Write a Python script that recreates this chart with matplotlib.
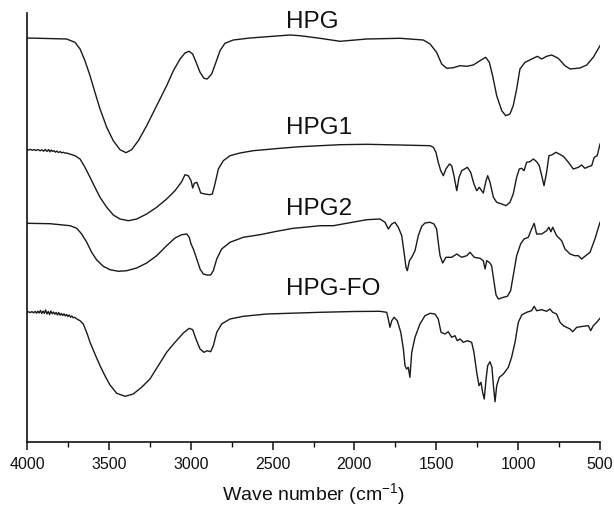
import matplotlib
matplotlib.use("Agg")
import matplotlib.pyplot as plt
from matplotlib.ticker import MultipleLocator

plt.rcParams['font.family'] = ['Liberation Sans', 'DejaVu Sans']
plt.rcParams['mathtext.fontset'] = 'custom'
plt.rcParams['mathtext.rm'] = 'Liberation Sans'
plt.rcParams['mathtext.it'] = 'Liberation Sans:italic'

# ---- data: wave number (cm-1) and transmittance (arbitrary, stacked offsets) ----
hpg_w = [4000, 3758, 3707, 3676, 3646, 3615, 3585, 3554, 3513, 3473, 3432, 3395, 3361,
         3320, 3269, 3208, 3147, 3106, 3065, 3035, 3010, 2988, 2963, 2943, 2919, 2899,
         2872, 2846, 2821, 2791, 2740, 2638, 2394, 2333, 2210, 2088, 1925, 1722, 1579,
         1538, 1498, 1467, 1436, 1396, 1355, 1314, 1274, 1233, 1198, 1176, 1156, 1131,
         1100, 1076, 1050, 1030, 1009, 989, 958, 907, 883, 856, 826, 795, 755, 714,
         683, 622, 581, 541, 500]
hpg_t = [404, 403, 399.7, 393, 381.3, 366.3, 349.7, 333, 314.7, 301.3, 292.3, 289.3, 292.3,
         301.3, 316.3, 336.3, 356.3, 371.3, 383, 389, 390.7, 388, 378, 369.7, 363.7, 363,
         368, 379.7, 391.3, 398.7, 402, 404, 407, 406.3, 403.7, 400.7, 403, 403.7, 402,
         398, 389.7, 378, 373.7, 374.3, 376.3, 375.7, 377, 381.3, 384.7, 379.7, 366.3, 346.3,
         331.3, 326.3, 328, 336.3, 353, 373, 379.7, 383.7, 385.7, 383, 385.7, 387, 383.7, 376.3,
         373, 374, 377, 384.7, 396.3]

hpg1_w = [4000, 3990, 3978, 3968, 3955, 3945, 3932, 3920, 3910, 3898, 3888, 3878, 3868,
          3860, 3852, 3844, 3835, 3826, 3818, 3808, 3798, 3788, 3778, 3768, 3758, 3707,
          3676, 3646, 3615, 3585, 3554, 3513, 3473, 3432, 3381, 3330, 3269, 3208, 3147,
          3096, 3055, 3035, 3015, 2998, 2988, 2978, 2963, 2951, 2939, 2913, 2886, 2868,
          2852, 2831, 2801, 2760, 2699, 2618, 2455, 2333, 2210, 2088, 1925, 1722, 1538,
          1518, 1502, 1488, 1473, 1457, 1441, 1420, 1406, 1392, 1375, 1361, 1345, 1310,
          1290, 1270, 1253, 1237, 1223, 1213, 1196, 1186, 1172, 1151, 1131, 1100, 1074,
          1050, 1030, 1009, 993, 978, 964, 948, 928, 907, 887, 871, 856, 842, 826, 812,
          795, 769, 724, 693, 663, 632, 612, 592, 571, 551, 535, 517, 500]
hpg1_t = [292.3, 292, 292.6, 291.8, 292.4, 291.5, 292.5, 291.2, 292.2, 290.8, 292.6, 290.5, 292.4,
          290.2, 292, 290.6, 291.3, 289.8, 291, 289.5, 290.4, 289.2, 289.8, 288.8, 289, 286.3,
          283, 274.7, 264.7, 254.7, 244.7, 234.7, 227, 223, 221.3, 223, 228, 234.7, 243,
          251.3, 260.3, 267.3, 266.3, 261.3, 254, 258.7, 259.7, 254.7, 249, 248, 247.3, 248,
          258, 273, 281.3, 286.3, 289, 291.3, 293.7, 295.3, 296.3, 297.3, 297.7, 297, 296.3,
          294.7, 289.7, 279.7, 271.3, 266.3, 273, 278, 276.3, 266.3, 251.3, 264.7, 271.3, 274.7,
          269.7, 258, 251.3, 254.7, 251.3, 249, 261.3, 266.3, 259.7, 244.7, 239.7, 238, 236.3,
          239.7, 248, 264.7, 273, 273.7, 271.3, 279.7, 280.3, 283, 280.3, 276.3, 266.3, 256.3, 269.7, 286.3,
          287, 289.7, 285.7, 279.7, 273, 274.7, 277, 273.7, 275.3, 276.3, 284.7, 286.3, 298]

hpg2_w = [4000, 3860, 3737, 3696, 3666, 3635, 3605, 3574, 3534, 3493, 3442, 3391, 3330,
          3269, 3208, 3147, 3096, 3055, 3024, 3009, 2998, 2984, 2963, 2943, 2923, 2902,
          2878, 2862, 2841, 2811, 2760, 2679, 2577, 2475, 2374, 2333, 2210, 2129, 1925,
          1844, 1813, 1793, 1772, 1752, 1732, 1711, 1697, 1685, 1677, 1664, 1650, 1630,
          1610, 1589, 1569, 1538, 1514, 1498, 1488, 1477, 1461, 1441, 1406, 1375, 1345,
          1314, 1294, 1268, 1233, 1213, 1202, 1192, 1176, 1162, 1147, 1135, 1121, 1090,
          1066, 1046, 1030, 1009, 985, 964, 938, 918, 902, 887, 856, 826, 812, 800, 789,
          765, 734, 714, 683, 653, 632, 612, 592, 561, 531, 500]
hpg2_t = [218.7, 218.3, 216.3, 213.7, 208, 199.7, 189.7, 182, 175.7, 172.3, 170.7, 171.3, 174,
          179, 186.3, 196.3, 204, 207.3, 208, 204.7, 198, 193, 183, 173, 168, 167,
          167, 171.3, 183, 193, 199.7, 204.7, 207.3, 210.7, 213.7, 214.3, 216.3, 216.3, 222.3,
          223, 219.7, 213, 218, 219.7, 214.7, 206.3, 189.7, 174.7, 171.3, 181.3, 184.7, 191.3,
          206.3, 215.7, 219, 219.7, 218, 213, 199.7, 186.3, 179, 184.7, 184.7, 188, 184.7,
          186.3, 189.7, 184.7, 183.7, 181.3, 173, 181.3, 179.7, 176.3, 159.7, 147, 143, 144.7,
          145.7, 151.3, 166.3, 186.3, 198, 203, 204.7, 213, 218.7, 208, 208, 211.3, 214.7, 210.3, 214.7,
          206.3, 201.3, 193, 188, 186.3, 186.3, 183, 185.7, 189.7, 203, 219.7]

hpgfo_w = [4000, 3990, 3980, 3970, 3960, 3950, 3942, 3934, 3926, 3918, 3910, 3902, 3894,
           3886, 3878, 3870, 3862, 3854, 3846, 3838, 3830, 3822, 3814, 3806, 3798, 3790,
           3782, 3774, 3766, 3758, 3750, 3742, 3734, 3726, 3718, 3710, 3700, 3690, 3676,
           3656, 3632, 3615, 3585, 3554, 3524, 3493, 3452, 3401, 3351, 3300, 3249, 3198,
           3147, 3096, 3045, 3009, 2988, 2968, 2943, 2919, 2899, 2878, 2862, 2841, 2811,
           2760, 2679, 2536, 2333, 2210, 2000, 1844, 1803, 1793, 1783, 1772, 1758, 1738,
           1717, 1701, 1691, 1681, 1671, 1661, 1650, 1630, 1600, 1569, 1538, 1508, 1488,
           1471, 1447, 1427, 1406, 1386, 1372, 1355, 1335, 1310, 1284, 1270, 1253, 1239,
           1227, 1217, 1207, 1196, 1186, 1172, 1160, 1151, 1141, 1131, 1115, 1090, 1060,
           1040, 1019, 999, 978, 948, 918, 902, 887, 856, 826, 806, 789, 765, 744, 724,
           704, 683, 667, 642, 602, 571, 557, 541, 520, 500]
hpgfo_t = [129.7, 130.2, 129.4, 130.4, 129.2, 130.6, 128.8, 130.8, 129, 131.5, 128.5, 131, 128.6,
           132, 128, 130.5, 127.5, 131, 128.2, 130, 127.8, 129.6, 127, 129.5, 126.8, 128.5,
           126.5, 128.2, 126, 127.6, 125.5, 127, 124.8, 126, 124.2, 124.8, 123.5, 122.5, 121.3,
           118, 108, 99.7, 88, 76.3, 66.3, 57, 48.7, 45.7, 48, 54.7, 63, 76.3,
           89.7, 99.7, 109, 113.7, 112.3, 103, 93, 89.7, 91.3, 90.3, 96.3, 109.7, 118,
           123, 125.7, 128, 129, 129.7, 130.5, 130.7, 129.7, 123, 114.7, 121.3, 124.7, 121.3,
           109.7, 93, 76.3, 73, 74.7, 64.7, 89.7, 104.7, 118, 126.3, 128.7, 128, 123,
           109.7, 108, 110.3, 104.7, 106.3, 101.3, 103, 99.7, 101.3, 99.7, 89.7, 69.7, 56.3,
           59.7, 49.7, 43, 63, 76.3, 80.3, 74.7, 56.3, 40.3, 56.3, 64.7, 68, 74.7,
           84.7, 99.7, 119.7, 127, 129.7, 131.3, 135.7, 131.3, 132.3, 130.7, 133, 129.7, 128, 119.7, 116.3,
           114.7, 113, 110.3, 114.7, 115.7, 116.3, 111.3, 116.3, 119.7, 123.7]

series = [(hpg_w, hpg_t, "HPG", 421), (hpg1_w, hpg1_t, "HPG1", 315),
          (hpg2_w, hpg2_t, "HPG2", 234), (hpgfo_w, hpgfo_t, "HPG-FO", 154)]
label_x = 2418

fig = plt.figure(figsize=(6.14, 5.10), dpi=100)
ax = fig.add_axes([27/614, 67/510, 573/614, 429/510])

for w, t, name, ly in series:
    ax.plot(w, t, color='#1a1a1a', lw=1.0, solid_joinstyle='round')
    ax.text(label_x, ly, name, fontsize=17.5, ha='left', va='center', color='#111111')

ax.set_xlim(4000, 500)
ax.set_ylim(0, 429)
ax.spines['top'].set_visible(False)
ax.spines['right'].set_visible(False)
for s in ('left', 'bottom'):
    ax.spines[s].set_linewidth(1.2)
    ax.spines[s].set_color('#111111')
ax.set_yticks([])
ax.xaxis.set_major_locator(MultipleLocator(500))
ax.xaxis.set_minor_locator(MultipleLocator(250))
ax.tick_params(axis='x', which='major', direction='out', length=6.0, width=1.1,
               labelsize=11.5, pad=4, colors='#111111')
ax.tick_params(axis='x', which='minor', direction='out', length=3.5, width=1.0,
               colors='#111111')

fig.text(313.5/614, (510-494)/510, "Wave number (cm$^{-1}$)", fontsize=14,
         ha='center', va='center', color='#111111')

fig.savefig("out.png", dpi=100)
